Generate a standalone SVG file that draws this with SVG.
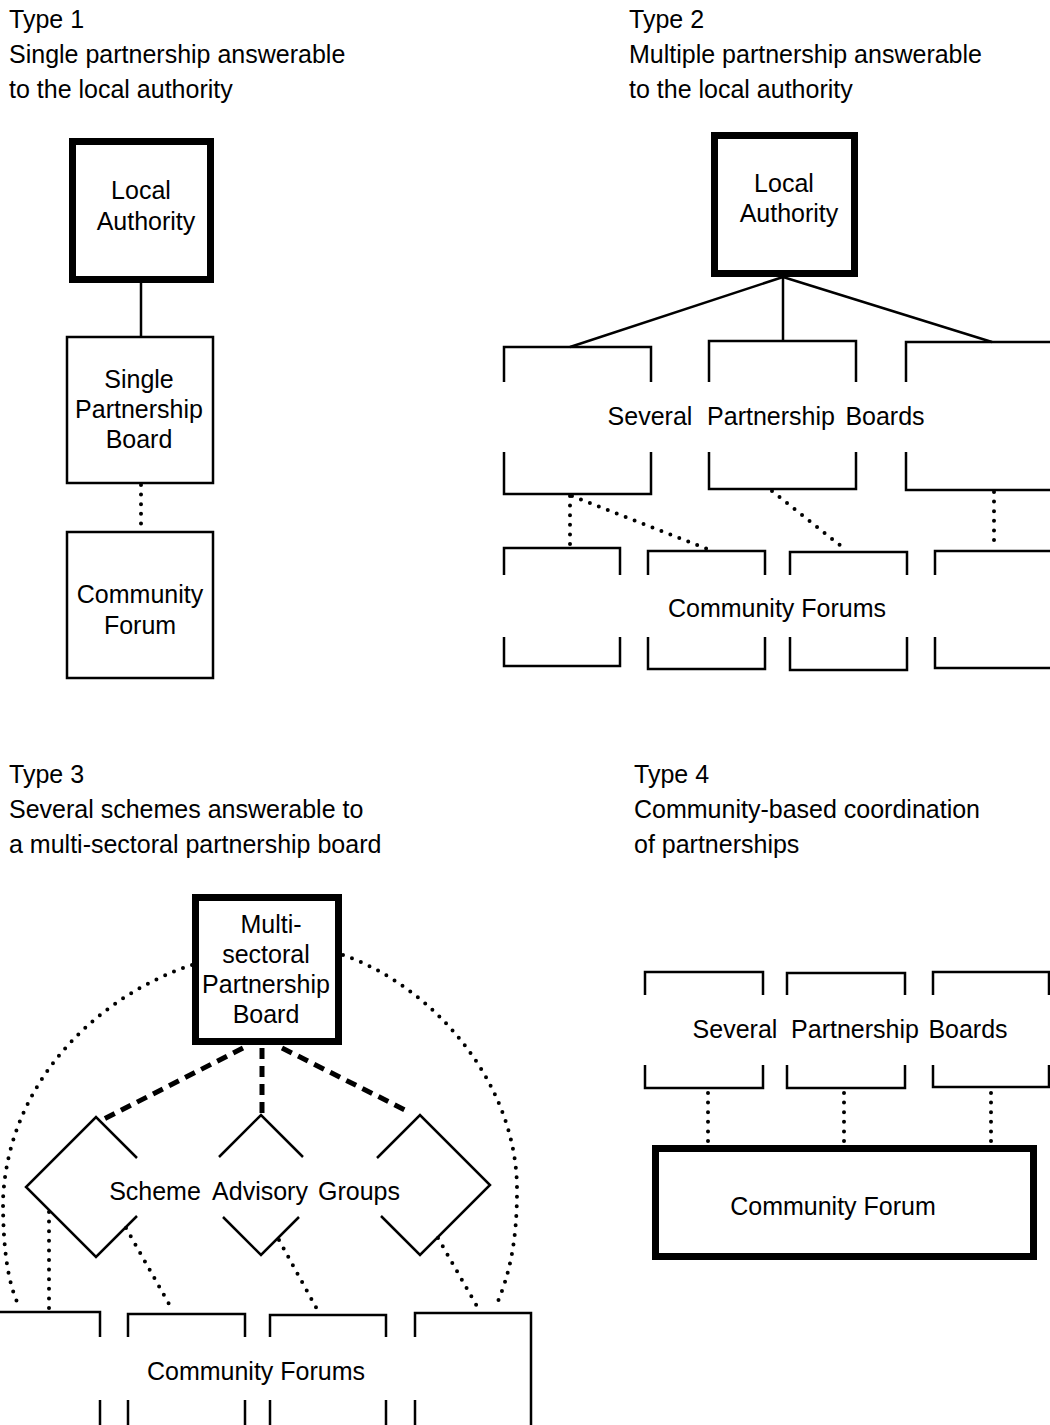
<svg xmlns="http://www.w3.org/2000/svg" width="1050" height="1425" viewBox="0 0 1050 1425">
<style>
text{font-family:"Liberation Sans",Arial,sans-serif;font-size:25px;fill:#000}
.t{text-anchor:start}
.c{text-anchor:middle}
.thin{fill:none;stroke:#000;stroke-width:2.5}
.thick{fill:none;stroke:#000;stroke-width:7}
.solid{fill:none;stroke:#000;stroke-width:2.5}
.dot{fill:none;stroke:#000;stroke-width:4;stroke-linecap:round;stroke-dasharray:0 9.6}
.dash{fill:none;stroke:#000;stroke-width:5;stroke-dasharray:11 7}
</style>
<rect width="1050" height="1425" fill="#fff"/>

<!-- Titles -->
<g id="titles">
<text class="t" x="9" y="28">Type 1</text>
<text class="t" x="9" y="63">Single partnership answerable</text>
<text class="t" x="9" y="98">to the local authority</text>
<text class="t" x="629" y="28">Type 2</text>
<text class="t" x="629" y="63">Multiple partnership answerable</text>
<text class="t" x="629" y="98">to the local authority</text>
<text class="t" x="9" y="783">Type 3</text>
<text class="t" x="9" y="818">Several schemes answerable to</text>
<text class="t" x="9" y="853">a multi-sectoral partnership board</text>
<text class="t" x="634" y="783">Type 4</text>
<text class="t" x="634" y="818">Community-based coordination</text>
<text class="t" x="634" y="853">of partnerships</text>
</g>

<!-- Connectors -->
<g id="connectors">
<!-- Type 1 -->
<line class="solid" x1="141" y1="283" x2="141" y2="337"/>
<line class="dot" x1="141" y1="485" x2="141" y2="531"/>
<!-- Type 2 -->
<line class="solid" x1="783" y1="277" x2="570" y2="347"/>
<line class="solid" x1="783" y1="277" x2="783" y2="341"/>
<line class="solid" x1="783" y1="277" x2="992" y2="342"/>
<line class="dot" x1="570" y1="496" x2="570" y2="545"/>
<line class="dot" x1="572" y1="496" x2="710" y2="550"/>
<line class="dot" x1="772" y1="491" x2="846" y2="550"/>
<line class="dot" x1="994" y1="492" x2="994" y2="547"/>
<!-- Type 3 -->
<line class="dash" x1="243" y1="1048" x2="100" y2="1121"/>
<line class="dash" x1="262" y1="1048" x2="262" y2="1115"/>
<line class="dash" x1="282" y1="1048" x2="409" y2="1112"/>
<path class="dot" d="M192,965 C100,995 8,1080 3,1200 C3,1250 8,1285 20,1308"/>
<path class="dot" d="M343,955 C430,985 517,1080 517,1190 C517,1240 510,1275 495,1308"/>
<line class="dot" x1="49" y1="1212" x2="49" y2="1309"/>
<line class="dot" x1="126" y1="1228" x2="173" y2="1311"/>
<line class="dot" x1="279" y1="1240" x2="318" y2="1311"/>
<line class="dot" x1="438" y1="1238" x2="478" y2="1308"/>
<!-- Type 4 -->
<line class="dot" x1="708" y1="1093" x2="708" y2="1143"/>
<line class="dot" x1="844" y1="1093" x2="844" y2="1143"/>
<line class="dot" x1="991" y1="1093" x2="991" y2="1143"/>
</g>

<!-- Type 1 nodes -->
<g id="t1-local-authority">
<rect class="thick" x="72.5" y="141.5" width="138" height="138"/>
<text class="c" x="141" y="199">Local</text>
<text class="c" x="146" y="230">Authority</text>
</g>
<g id="t1-single-partnership-board">
<rect class="thin" x="67" y="337" width="146" height="146"/>
<text class="c" x="139" y="388">Single</text>
<text class="c" x="139" y="418">Partnership</text>
<text class="c" x="139" y="448">Board</text>
</g>
<g id="t1-community-forum">
<rect class="thin" x="67" y="532" width="146" height="146"/>
<text class="c" x="140" y="603">Community</text>
<text class="c" x="140" y="634">Forum</text>
</g>

<!-- Type 2 nodes -->
<g id="t2-local-authority">
<rect class="thick" x="714.5" y="135.5" width="140" height="138"/>
<text class="c" x="784" y="192">Local</text>
<text class="c" x="789" y="222">Authority</text>
</g>
<g id="t2-partnership-boards">
<path class="thin" d="M504,382 V347 H651 V382 M504,452 V494 H651 V452"/>
<path class="thin" d="M709,382 V341 H856 V382 M709,452 V489 H856 V452"/>
<path class="thin" d="M906,382 V342 H1056 M906,452 V490 H1056"/>
<text y="425"><tspan class="c" x="650">Several</tspan><tspan class="c" x="771">Partnership</tspan><tspan class="c" x="885">Boards</tspan></text>
</g>
<g id="t2-community-forums">
<path class="thin" d="M504,575 V548 H620 V575 M504,637 V666 H620 V637"/>
<path class="thin" d="M648,575 V551 H765 V575 M648,637 V669 H765 V637"/>
<path class="thin" d="M790,575 V552 H907 V575 M790,637 V670 H907 V637"/>
<path class="thin" d="M935,575 V551 H1056 M935,637 V668 H1056"/>
<text class="c" x="777" y="617">Community Forums</text>
</g>

<!-- Type 3 nodes -->
<g id="t3-multi-sectoral-board">
<rect class="thick" x="195.5" y="897.5" width="143" height="144"/>
<text class="c" x="271" y="933">Multi-</text>
<text class="c" x="266" y="963">sectoral</text>
<text class="c" x="266" y="993">Partnership</text>
<text class="c" x="266" y="1023">Board</text>
</g>
<g id="t3-scheme-advisory-groups">
<path class="thin" d="M137,1158 L96,1117 L26,1187 L96,1257 L137,1216"/>
<path class="thin" d="M219,1157 L261,1115 L303,1157 M223,1217 L261,1255 L299,1217"/>
<path class="thin" d="M377,1158 L420,1115 L490,1185 L420,1255 L381,1216"/>
<text y="1200"><tspan class="c" x="155">Scheme</tspan><tspan class="c" x="260">Advisory</tspan><tspan class="c" x="359">Groups</tspan></text>
</g>
<g id="t3-community-forums">
<path class="thin" d="M-5,1312 H100 V1337 M100,1400 V1430"/>
<path class="thin" d="M128,1337 V1314 H245 V1337 M128,1400 V1430 M245,1400 V1430"/>
<path class="thin" d="M270,1337 V1315 H386 V1337 M270,1400 V1430 M386,1400 V1430"/>
<path class="thin" d="M415,1337 V1313 H531 V1430 M415,1400 V1430"/>
<text class="c" x="256" y="1380">Community Forums</text>
</g>

<!-- Type 4 nodes -->
<g id="t4-partnership-boards">
<path class="thin" d="M645,995 V972 H763 V995 M645,1065 V1088 H763 V1065"/>
<path class="thin" d="M787,995 V973 H905 V995 M787,1065 V1088 H905 V1065"/>
<path class="thin" d="M933,995 V972 H1049 V995 M933,1065 V1087 H1049 V1065"/>
<text y="1038"><tspan class="c" x="735">Several</tspan><tspan class="c" x="855">Partnership</tspan><tspan class="c" x="968">Boards</tspan></text>
</g>
<g id="t4-community-forum">
<rect class="thick" x="655.5" y="1148.5" width="378" height="108"/>
<text class="c" x="833" y="1215">Community Forum</text>
</g>
</svg>
